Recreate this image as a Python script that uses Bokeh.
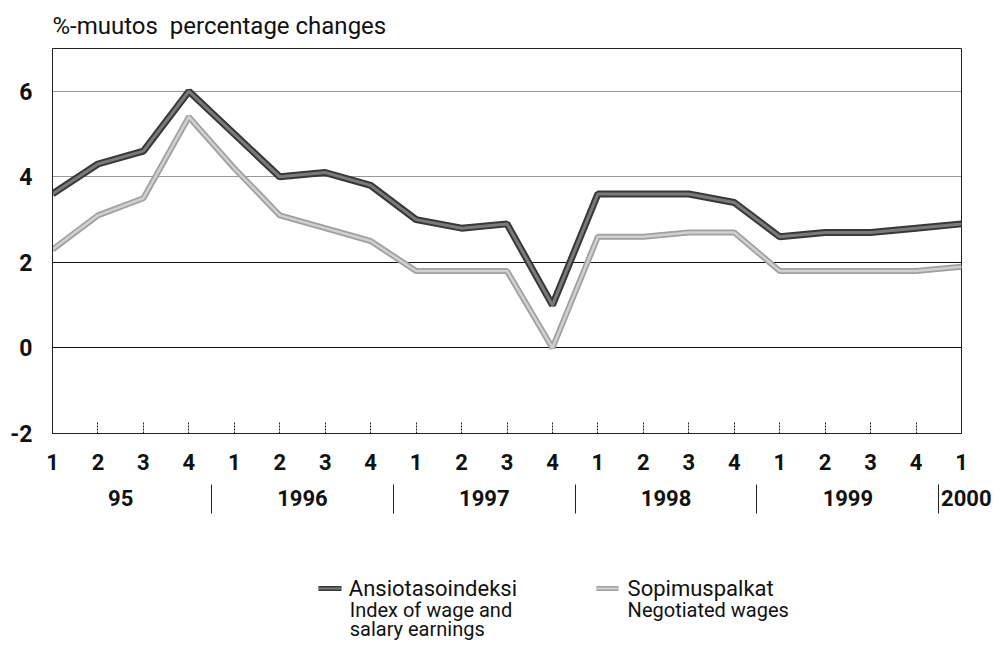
from bokeh.plotting import figure
from bokeh.models import Range1d, FixedTicker, LinearAxis, Grid
from bokeh.layouts import column
from bokeh.embed import file_html
from bokeh.resources import INLINE
from bokeh.core.properties import value

# ---- data ----
quarter_labels = ["1", "2", "3", "4", "1", "2", "3", "4", "1", "2", "3", "4",
                  "1", "2", "3", "4", "1", "2", "3", "4", "1"]
year_labels = ["95", "1996", "1997", "1998", "1999", "\u00a0\u00a0\u00a0\u00a0\u00a02000"]
year_centers = [1.5, 5.5, 9.5, 13.5, 17.5, 20]
year_breaks = [3.5, 7.5, 11.5, 15.5, 19.5]
ansio = [3.6, 4.3, 4.6, 6.0, 5.0, 4.0, 4.1, 3.8, 3.0, 2.8, 2.9, 1.0,
         3.6, 3.6, 3.6, 3.4, 2.6, 2.7, 2.7, 2.8, 2.9]
sopimus = [2.3, 3.1, 3.5, 5.4, 4.2, 3.1, 2.8, 2.5, 1.8, 1.8, 1.8, 0.0,
           2.6, 2.6, 2.7, 2.7, 1.8, 1.8, 1.8, 1.8, 1.9]
y_ticks = [-2, 0, 2, 4, 6]
title_text = "%-muutos\u00a0 percentage changes"
series_names = ["Ansiotasoindeksi", "Sopimuspalkat"]
series_sub1 = ["Index of wage and", "salary earnings"]
series_sub2 = ["Negotiated wages"]

F = "Roboto"
INK = "#111111"
DARK_OUT, DARK_IN = "#383838", "#7a7a7a"
LIGHT_OUT, LIGHT_IN = "#a0a0a0", "#d0d0d0"
x = list(range(len(ansio)))

p = figure(width=991, height=530, x_range=Range1d(0, 20), y_range=Range1d(-2, 7),
           output_backend="svg", toolbar_location=None,
           min_border_left=52, min_border_right=30, min_border_top=48, min_border_bottom=97,
           x_axis_type=None, y_axis_type=None)
p.outline_line_color = "#222222"
p.outline_line_width = 1

p.title.text = title_text
p.title.text_font = F
p.title.text_font_size = "24px"
p.title.text_font_style = "normal"
p.title.text_color = INK
p.title.standoff = 17
p.title.offset = 0

# grids
p.add_layout(Grid(dimension=1, ticker=FixedTicker(ticks=[4, 6]), grid_line_color="#333333",
                  grid_line_dash="1 1", grid_line_width=1))
p.add_layout(Grid(dimension=1, ticker=FixedTicker(ticks=[0, 2]), grid_line_color="#111111",
                  grid_line_width=1))

# y axis
yaxis = LinearAxis(ticker=FixedTicker(ticks=y_ticks, minor_ticks=[]),
                   major_label_overrides={t: str(t) for t in y_ticks},
                   major_tick_in=0, major_tick_out=0, minor_tick_in=0, minor_tick_out=0,
                   axis_line_color="#222222", major_label_standoff=20,
                   major_label_text_font=F, major_label_text_font_size="23px",
                   major_label_text_font_style="bold", major_label_text_color=INK)
p.add_layout(yaxis, "left")

# x axis (quarters)
xaxis = LinearAxis(ticker=FixedTicker(ticks=x, minor_ticks=[]),
                   major_label_overrides={i: quarter_labels[i] for i in x},
                   major_tick_in=12, major_tick_out=0, major_tick_line_dash="2 1",
                   major_tick_line_color="#222222", axis_line_color="#222222",
                   axis_line_dash="2 1", minor_tick_in=0, minor_tick_out=0,
                   major_label_standoff=20, major_label_text_font=F,
                   major_label_text_font_size="22px", major_label_text_font_style="bold",
                   major_label_text_color=INK)
p.add_layout(xaxis, "below")

# year labels
year_axis = LinearAxis(ticker=FixedTicker(ticks=year_centers, minor_ticks=[]),
                       major_label_overrides=dict(zip(year_centers, year_labels)),
                       major_tick_in=0, major_tick_out=0, minor_tick_in=0, minor_tick_out=0,
                       axis_line_color=None, major_label_standoff=13, major_label_text_font=F,
                       major_label_text_font_size="22px", major_label_text_font_style="bold",
                       major_label_text_color=INK)
p.add_layout(year_axis, "below")

# year separators (ticks pointing up into the year label row)
sep_axis = LinearAxis(ticker=FixedTicker(ticks=year_breaks, minor_ticks=[]),
                      major_label_overrides={b: "" for b in year_breaks},
                      major_tick_in=29, major_tick_out=0, minor_tick_in=0, minor_tick_out=0,
                      major_tick_line_color="#222222", axis_line_color=None,
                      major_label_standoff=0, major_label_text_font_size="1px")
p.add_layout(sep_axis, "below")

# series
p.line(x, sopimus, line_color=LIGHT_OUT, line_width=6)
p.line(x, sopimus, line_color=LIGHT_IN, line_width=2.5)
p.line(x, ansio, line_color=DARK_OUT, line_width=7)
p.line(x, ansio, line_color=DARK_IN, line_width=3)

# ---- legend area (pixel coordinates, y downwards) ----
H2 = 111
q = figure(width=991, height=H2, x_range=Range1d(0, 991), y_range=Range1d(H2, 0),
           output_backend="svg", toolbar_location=None, min_border=0,
           x_axis_type=None, y_axis_type=None)
q.outline_line_color = None
q.xgrid.visible = False
q.ygrid.visible = False

sw_x0 = [290, 593]
sw_x1 = [315, 617]
sw_y = [58, 58]
q.segment(x0=sw_x0[:1], x1=sw_x1[:1], y0=sw_y[:1], y1=sw_y[:1], line_color=DARK_OUT, line_width=5)
q.segment(x0=sw_x0[:1], x1=sw_x1[:1], y0=sw_y[:1], y1=sw_y[:1], line_color=DARK_IN, line_width=2)
q.segment(x0=sw_x0[1:], x1=sw_x1[1:], y0=sw_y[1:], y1=sw_y[1:], line_color=LIGHT_OUT, line_width=5)
q.segment(x0=sw_x0[1:], x1=sw_x1[1:], y0=sw_y[1:], y1=sw_y[1:], line_color=LIGHT_IN, line_width=2)

q.text(x=[323, 627], y=[58, 58], text=series_names, text_font=value(F),
       text_font_size="22px", text_baseline="middle", text_color=INK)
q.text(x=[324, 324], y=[79, 98], text=series_sub1, text_font=value(F),
       text_font_size="20px", text_baseline="middle", text_color=INK)
q.text(x=[627], y=[79], text=series_sub2, text_font=value(F),
       text_font_size="20px", text_baseline="middle", text_color=INK)

open("out.html", "w").write(file_html(column(p, q, spacing=0), INLINE))
